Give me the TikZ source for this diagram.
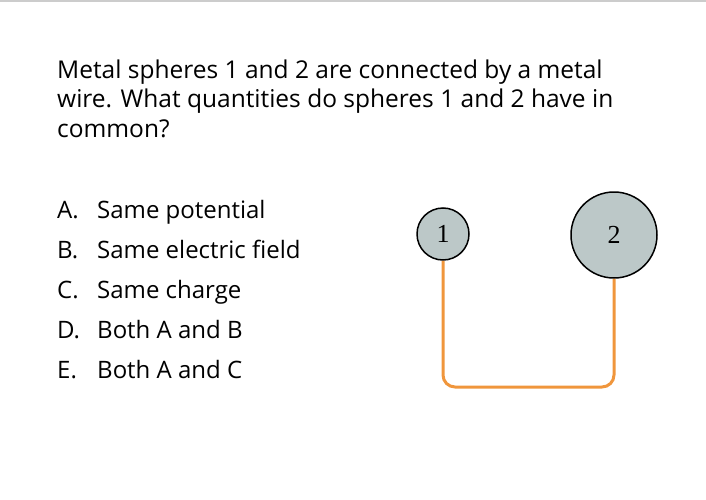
\documentclass[tikz,border=0pt]{standalone}
\usepackage{fontspec}
\setmainfont{Open Sans}
\newfontfamily\timesf{Liberation Serif}
\definecolor{sph}{HTML}{BCC8C8}
\definecolor{wire}{HTML}{F0963C}
\begin{document}
\begin{tikzpicture}[x=1pt,y=-1pt,
  q/.style={anchor=base west,inner sep=0,font=\fontsize{24.5}{30}\selectfont},
  opt/.style={anchor=base west,inner sep=0,font=\fontsize{24}{27}\selectfont},
  ball/.style={circle,draw=black,line width=1.5pt,fill=sph,inner sep=0,font=\timesf\fontsize{26}{28}\selectfont}]
\useasboundingbox (0,0) rectangle (706,500);
\draw[gray!40,line width=2pt] (0,1) -- (706,1);
\node[q] (l1) at (57,79) {Metal spheres 1 and 2 are connected by a metal};
\node[q] (l2) at (57,108) {wire. What quantities do spheres 1 and 2 have in};
\node[q] (l3) at (57,137) {common?};
\foreach \n/\t [count=\i] in {A/Same potential,B/Same electric field,C/Same charge,D/Both A and B,E/Both A and C}{
  \node[opt] (o\n) at (57,178+40*\i) {\n.};
  \node[opt] (t\n) at (97,178+40*\i) {\t};
}
\node[ball,minimum size=52pt] (s1) at (443,234) {1};
\node[ball,minimum size=86pt] (s2) at (614,235) {2};
\draw[wire,line width=3pt,rounded corners=12pt] (s1.south) -- (443,387) -- (614,387) -- (s2.south);
\end{tikzpicture}
\end{document}
